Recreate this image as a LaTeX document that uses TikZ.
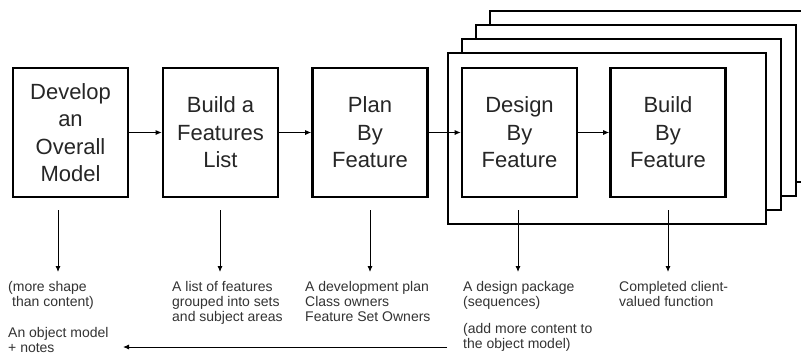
\documentclass[tikz,border=0pt]{standalone}
\usepackage{fontspec}
\setmainfont{Liberation Sans}
\usetikzlibrary{arrows.meta}
\begin{document}
\begin{tikzpicture}[x=1pt,y=-1pt,
  stepbox/.style={draw, line width=2.6pt, fill=white, minimum width=115pt, minimum height=129pt, inner sep=0pt, align=center, font=\fontsize{22}{27.5}\selectfont, text=black!85},
  frame/.style={draw, line width=1.1pt, fill=white},
  outframe/.style={draw, line width=2pt, fill=white},
  arr/.style={line width=0.9pt, -{Latex[length=6pt,width=5pt]}},
  note/.style={anchor=north west, inner sep=0pt, align=left, font=\fontsize{14}{15}\selectfont, text=black!80}]
\useasboundingbox (0,0) rectangle (801,354);
\clip (0,0) rectangle (801,354);
\fill[white] (0,0) rectangle (801,354);
% stacked frames
\draw[frame] (490,11) rectangle (820,182);
\draw[frame] (476,25) rectangle (796,196);
\draw[frame] (462,39) rectangle (781,210);
\draw[outframe] (448,53) rectangle (766,224);
% step boxes
\node[stepbox] (b1) at (70.5,132.5) {Develop\\an\\Overall\\Model};
\node[stepbox] (b2) at (220.5,132.5) {Build a\\Features\\List};
\node[stepbox] (b3) at (370,132.5) {Plan\\By\\Feature};
\node[stepbox] (b4) at (519.5,132.5) {Design\\By\\Feature};
\node[stepbox] (b5) at (668,132.5) {Build\\By\\Feature};
\draw[arr] (b1.east) -- (b2.west);
\draw[arr] (b2.east) -- (b3.west);
\draw[arr] (b3.east) -- (b4.west);
\draw[arr] (b4.east) -- (b5.west);
% outputs
\coordinate (s1) at (58,210);  \coordinate (e1) at (58,272);
\coordinate (s2) at (220,210); \coordinate (e2) at (220,272);
\coordinate (s3) at (370,210); \coordinate (e3) at (370,272);
\coordinate (s4) at (518,210); \coordinate (e4) at (518,272);
\coordinate (s5) at (668,210); \coordinate (e5) at (668,272);
\draw[arr] (s1) -- (e1);
\draw[arr] (s2) -- (e2);
\draw[arr] (s3) -- (e3);
\draw[arr] (s4) -- (e4);
\draw[arr] (s5) -- (e5);
\node[note] (t1) at (8,281) {(more shape\\\hspace{4pt}than content)};
\node[note] (t1b) at (8,327) {An object model\\+ notes};
\node[note] (t2) at (172,281) {A list of features\\grouped into sets\\and subject areas};
\node[note] (t3) at (305,281) {A development plan\\Class owners\\Feature Set Owners};
\node[note] (t4) at (463,281) {A design package\\(sequences)};
\node[note] (t4b) at (463,323) {(add more content to\\the object model)};
\node[note] (t5) at (619,281) {Completed client-\\valued function};
\coordinate (r1) at (447,347);
\coordinate (r2) at (123,347);
\draw[arr] (r1) -- (r2);
\end{tikzpicture}
\end{document}
